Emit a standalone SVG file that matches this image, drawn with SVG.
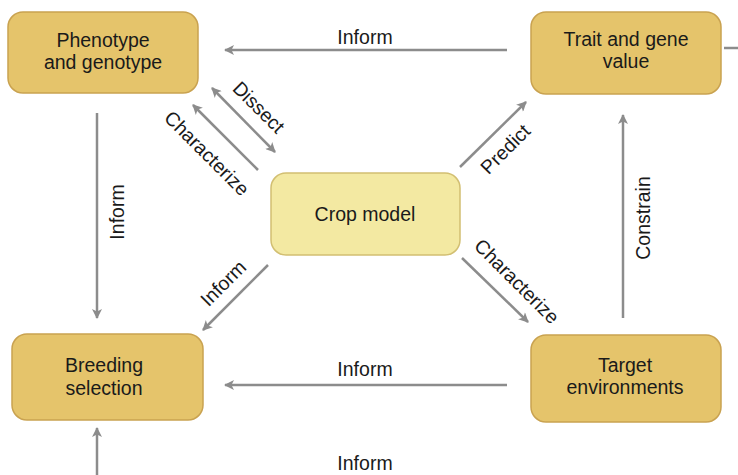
<svg xmlns="http://www.w3.org/2000/svg" width="738" height="475" viewBox="0 0 738 475">
<style>
.box{fill:#e5c46b;stroke:#c9a250;stroke-width:1.5}
.crop{fill:#f3e9a2;stroke:#d2bf72;stroke-width:1.5}
.t{font-family:"Liberation Sans",Arial,sans-serif;font-size:19.5px;fill:#1a1a1a;text-anchor:middle}
.c{stroke:#8c8c8c;stroke-width:2.5;fill:none}
</style>
<defs>
<marker id="ah" viewBox="0 0 10 10" refX="9" refY="5" markerWidth="11" markerHeight="10" markerUnits="userSpaceOnUse" orient="auto-start-reverse">
<path d="M0,0 L10,5 L0,10 L2.5,5 Z" fill="#8c8c8c"/>
</marker>
</defs>
<rect width="738" height="475" fill="#fff"/>
<g id="connectors">
<path class="c" d="M507,50 L225,50" marker-end="url(#ah)"/>
<path class="c" d="M507,385 L225,385" marker-end="url(#ah)"/>
<path class="c" d="M97,113 L97,318" marker-end="url(#ah)"/>
<path class="c" d="M97,475 L97,428" marker-end="url(#ah)"/>
<path class="c" d="M623,318 L623,115" marker-end="url(#ah)"/>
<path class="c" d="M460,167 L526,102" marker-end="url(#ah)"/>
<path class="c" d="M462,258 L528,322" marker-end="url(#ah)"/>
<path class="c" d="M268,265 L203,330" marker-end="url(#ah)"/>
<path class="c" d="M212,88 L275,152" marker-start="url(#ah)" marker-end="url(#ah)"/>
<path class="c" d="M258,170 L193,105" marker-end="url(#ah)"/>
<path class="c" d="M724,48 L738,48"/>
<text class="t" x="365" y="44">Inform</text>
<text class="t" x="365" y="376">Inform</text>
<text class="t" x="365" y="470">Inform</text>
<text class="t" transform="translate(124,212) rotate(-90)">Inform</text>
<text class="t" transform="translate(650,218) rotate(-90)">Constrain</text>
<text class="t" transform="translate(254,112) rotate(45)">Dissect</text>
<text class="t" transform="translate(202,158) rotate(45)">Characterize</text>
<text class="t" transform="translate(510,154) rotate(-45)">Predict</text>
<text class="t" transform="translate(512,286) rotate(45)">Characterize</text>
<text class="t" transform="translate(228,288) rotate(-45)">Inform</text>
</g>
<g id="phenotype">
<rect class="box" x="8" y="12" width="190" height="81" rx="15"/>
<text class="t" x="103" y="47">Phenotype</text>
<text class="t" x="103" y="69">and genotype</text>
</g>
<g id="trait">
<rect class="box" x="531" y="12" width="190" height="82" rx="15"/>
<text class="t" x="626" y="46">Trait and gene</text>
<text class="t" x="626" y="68">value</text>
</g>
<g id="crop">
<rect class="crop" x="271" y="173" width="189" height="82" rx="15"/>
<text class="t" x="365" y="221">Crop model</text>
</g>
<g id="breeding">
<rect class="box" x="12" y="334" width="191" height="86" rx="15"/>
<text class="t" x="104" y="372">Breeding</text>
<text class="t" x="104" y="395">selection</text>
</g>
<g id="target">
<rect class="box" x="531" y="335" width="190" height="87" rx="15"/>
<text class="t" x="625" y="372">Target</text>
<text class="t" x="625" y="394">environments</text>
</g>
</svg>
